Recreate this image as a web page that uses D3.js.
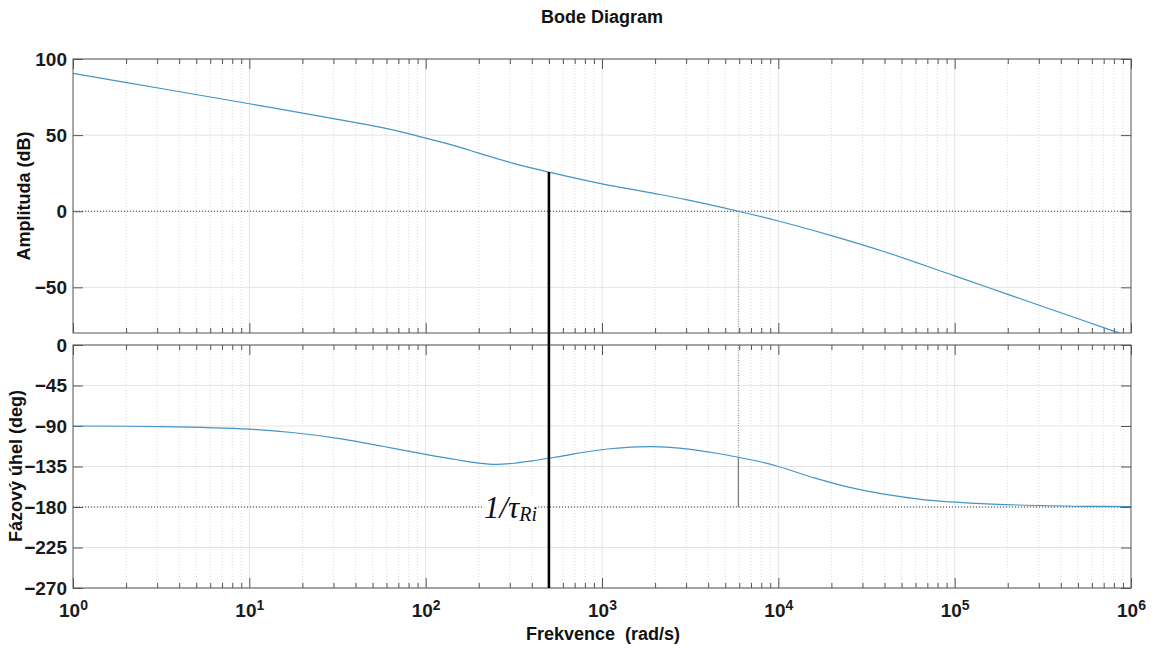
<!DOCTYPE html>
<html>
<head>
<meta charset="utf-8">
<script src="https://cdn.jsdelivr.net/npm/d3@7"></script>
<style>
  body { margin: 0; background: #fff; }
</style>
</head>
<body>
<svg id="chart"></svg>
<script>
var WIDTH = 1162;
var HEIGHT = 648;

// magnitude curve (rad/s, dB)
var magFreq = [1, 3.16, 10, 30, 54, 70, 100, 150, 200, 310, 500, 1000, 2000, 3000, 5930, 10000, 20000, 40000, 100000, 200000, 400000, 790000, 1000000];
var magDb   = [90.5, 80.6, 70.6, 60.8, 55.4, 52.6, 48.0, 42.6, 38.2, 31.6, 25.7, 18.0, 11.6, 7.6, 0, -6.4, -16.0, -26.6, -42.5, -54.6, -66.7, -78.6, -82.7];

// phase curve (rad/s, deg)
var phaseFreq = [1, 3.16, 10, 18, 34, 57, 100, 150, 200, 250, 320, 400, 500, 650, 810, 1150, 1600, 1950, 2750, 4370, 5930, 8000, 10000, 16200, 25000, 39000, 66000, 123000, 230000, 550000, 1000000];
var phaseDeg  = [-90, -90.6, -93.5, -97.5, -104.5, -112.5, -121.5, -127.5, -131.2, -132.7, -131.4, -128.8, -125.8, -122, -118.9, -115, -113.2, -112.9, -114.6, -120, -124.7, -130, -135, -148, -158, -165.5, -171.7, -175.6, -177.8, -179.2, -179.5];

var magTicks = [-50, 0, 50, 100];
var phaseTicks = [-270, -225, -180, -135, -90, -45, 0];
var decades = [0, 1, 2, 3, 4, 5, 6];

var crossFreq = 5930; // 0 dB crossover
var tauFreq = 500;    // 1/tau_Ri marker

var LEFT = 73, RIGHT = 1131;
var lineColor = "#4294c6";
var SANS = "'Liberation Sans', Arial, Helvetica, sans-serif";
var SERIF = "'Liberation Serif', 'Times New Roman', serif";

var svg = d3.select("#chart").attr("width", WIDTH).attr("height", HEIGHT)
  .style("font-family", SANS);
svg.append("rect").attr("width", WIDTH).attr("height", HEIGHT).attr("fill", "#fff");

var x = d3.scaleLog().domain([1, 1e6]).range([LEFT, RIGHT]);
var yMag = d3.scaleLinear().domain([-80, 100]).range([333, 59]);
var yPh = d3.scaleLinear().domain([-270, 0]).range([588, 345]);

var majors = decades.map(function (d) { return Math.pow(10, d); });
var minors = [];
decades.slice(0, 6).forEach(function (d) {
  for (var m = 2; m <= 9; m++) minors.push(m * Math.pow(10, d));
});

function drawPanel(name, y, yticks, withXLabels) {
  var top = y.range()[1], bottom = y.range()[0];
  var g = svg.append("g").attr("id", name);

  // grid
  g.selectAll(".minor").data(minors).enter().append("line")
    .attr("x1", x).attr("x2", x).attr("y1", top).attr("y2", bottom)
    .attr("stroke", "#dcdcdc").attr("stroke-dasharray", "1,2");
  g.selectAll(".major").data(majors.slice(1, 6)).enter().append("line")
    .attr("x1", x).attr("x2", x).attr("y1", top).attr("y2", bottom)
    .attr("stroke", "#e4e4e4");
  g.selectAll(".ygrid").data(yticks).enter().append("line")
    .attr("x1", LEFT).attr("x2", RIGHT).attr("y1", y).attr("y2", y)
    .attr("stroke", "#e4e4e4");

  //clip the curves to the box
  g.append("clipPath").attr("id", "clip-" + name).append("rect")
    .attr("x", LEFT).attr("y", top).attr("width", RIGHT - LEFT).attr("height", bottom - top);

  // ticks on all four sides, pointing inward
  var tickStyle = function (sel) {
    sel.select(".domain").remove();
    sel.selectAll("line").attr("stroke", "#555");
  };
  g.append("g").attr("transform", "translate(0," + bottom + ")")
    .call(d3.axisBottom(x).tickValues(minors).tickSize(-5).tickFormat("")).call(tickStyle);
  g.append("g").attr("transform", "translate(0," + top + ")")
    .call(d3.axisTop(x).tickValues(minors).tickSize(-5).tickFormat("")).call(tickStyle);
  g.append("g").attr("transform", "translate(0," + top + ")")
    .call(d3.axisTop(x).tickValues(majors).tickSize(-10).tickFormat("")).call(tickStyle);
  var bx = g.append("g").attr("transform", "translate(0," + bottom + ")")
    .call(d3.axisBottom(x).tickValues(majors).tickSize(-10).tickPadding(16)
      .tickFormat(function (d) { return withXLabels ? "10" : ""; }))
    .call(tickStyle);
  if (withXLabels) {
    bx.selectAll("text")
      .attr("fill", "#1a1a1a").attr("font-size", 19).attr("font-weight", "bold")
      .style("font-family", SANS)
      .append("tspan").attr("dy", "-0.55em").attr("font-size", 14)
      .text(function (d) { return Math.round(Math.log10(d)); });
  }
  g.append("g").attr("transform", "translate(" + LEFT + ",0)")
    .call(d3.axisLeft(y).tickValues(yticks).tickSize(-10).tickPadding(6))
    .call(tickStyle)
    .selectAll("text").attr("fill", "#1a1a1a").attr("font-size", 19).attr("font-weight", "bold")
    .style("font-family", SANS);
  g.append("g").attr("transform", "translate(" + RIGHT + ",0)")
    .call(d3.axisRight(y).tickValues(yticks).tickSize(-10).tickFormat(""))
    .call(tickStyle);

  return g;
}

var magPanel = drawPanel("mag", yMag, magTicks, false);
var phPanel = drawPanel("phase", yPh, phaseTicks, true);

// reference lines 0 dB and -180 deg
magPanel.append("line").attr("x1", LEFT).attr("x2", RIGHT)
  .attr("y1", yMag(0)).attr("y2", yMag(0))
  .attr("stroke", "#444").attr("stroke-dasharray", "1,2");
phPanel.append("line").attr("x1", LEFT).attr("x2", RIGHT)
  .attr("y1", yPh(-180)).attr("y2", yPh(-180))
  .attr("stroke", "#444").attr("stroke-dasharray", "1,2");

// crossover markers
var phCross = phaseDeg[phaseFreq.indexOf(crossFreq)];
magPanel.append("line").attr("x1", x(crossFreq)).attr("x2", x(crossFreq))
  .attr("y1", yMag(0)).attr("y2", yMag(-80))
  .attr("stroke", "#888").attr("stroke-dasharray", "1,1.5");
phPanel.append("line").attr("x1", x(crossFreq)).attr("x2", x(crossFreq))
  .attr("y1", yPh(0)).attr("y2", yPh(phCross))
  .attr("stroke", "#888").attr("stroke-dasharray", "1,1.5");
phPanel.append("line").attr("x1", x(crossFreq)).attr("x2", x(crossFreq))
  .attr("y1", yPh(phCross)).attr("y2", yPh(-180))
  .attr("stroke", "#777").attr("stroke-width", 1.2);

// curves
var magLine = d3.line()
  .x(function (d, i) { return x(magFreq[i]); })
  .y(function (d) { return yMag(d); })
  .curve(d3.curveCatmullRom.alpha(0.5));
magPanel.append("path").datum(magDb)
  .attr("clip-path", "url(#clip-mag)")
  .attr("d", magLine).attr("fill", "none")
  .attr("stroke", lineColor).attr("stroke-width", 1.2);

var phLine = d3.line()
  .x(function (d, i) { return x(phaseFreq[i]); })
  .y(function (d) { return yPh(d); })
  .curve(d3.curveCatmullRom.alpha(0.5));
phPanel.append("path").datum(phaseDeg)
  .attr("clip-path", "url(#clip-phase)")
  .attr("d", phLine).attr("fill", "none")
  .attr("stroke", lineColor).attr("stroke-width", 1.2);

// box outlines
[yMag, yPh].forEach(function (y) {
  svg.append("rect").attr("x", LEFT).attr("y", y.range()[1])
    .attr("width", RIGHT - LEFT).attr("height", y.range()[0] - y.range()[1])
    .attr("fill", "none").attr("stroke", "#555");
});

// 1/tau_Ri marker
var magTau = magDb[magFreq.indexOf(tauFreq)];
svg.append("line").attr("x1", x(tauFreq)).attr("x2", x(tauFreq))
  .attr("y1", yMag(magTau)).attr("y2", yPh(-270))
  .attr("stroke", "#000").attr("stroke-width", 2.6);

svg.append("rect").attr("x", 482).attr("y", 496).attr("width", 56).attr("height", 28).attr("fill", "#fff");
var tau = svg.append("text").attr("x", 484).attr("y", 518)
  .style("font-family", SERIF)
  .attr("font-style", "italic").attr("font-size", 31).attr("fill", "#111")
  .text("1/τ");
tau.append("tspan").attr("dy", 3).attr("font-size", 20).text("Ri");

// titles
svg.append("text").attr("x", 602).attr("y", 23).attr("text-anchor", "middle")
  .attr("font-size", 18).attr("font-weight", "bold").attr("fill", "#111")
  .text("Bode Diagram");
svg.append("text").attr("transform", "translate(30,196) rotate(-90)")
  .attr("text-anchor", "middle").attr("font-size", 18).attr("font-weight", "bold").attr("fill", "#111")
  .text("Amplituda (dB)");
svg.append("text").attr("transform", "translate(22,466) rotate(-90)")
  .attr("text-anchor", "middle").attr("font-size", 18).attr("font-weight", "bold").attr("fill", "#111")
  .text("Fázový úhel (deg)");
svg.append("text").attr("x", 603).attr("y", 640).attr("text-anchor", "middle")
  .style("white-space", "pre")
  .attr("font-size", 18).attr("font-weight", "bold").attr("fill", "#111")
  .text("Frekvence  (rad/s)");
</script>
</body>
</html>
